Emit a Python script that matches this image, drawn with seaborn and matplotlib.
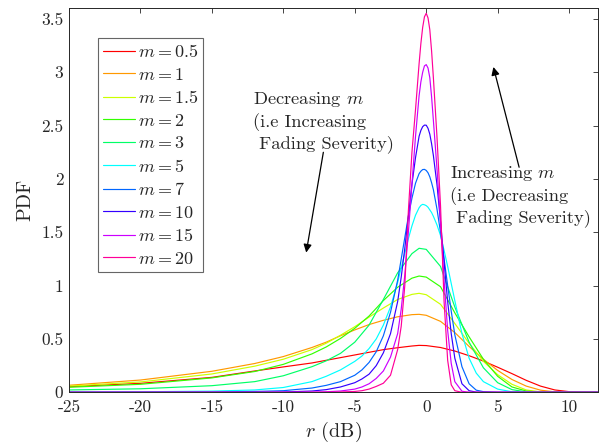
import colorsys
import numpy as np
import pandas as pd
import matplotlib
matplotlib.use("Agg")
import matplotlib.pyplot as plt
import seaborn as sns

# ---------------- data ----------------
m_values = ["0.5", "1", "1.5", "2", "3", "5", "7", "10", "15", "20"]

x_wide = [-25, -20, -15, -12, -10, -8, -7, -6, -5, -4, -3, -2, -1, -0.5, 0,
          1, 2, 3, 4, 5, 6, 7, 8, 9, 10, 11, 12]
pdf_m0p5 = [0.053, 0.084, 0.14, 0.20, 0.238, 0.275, 0.30, 0.325, 0.35, 0.375, 0.40,
            0.418, 0.434, 0.44, 0.438, 0.42, 0.387, 0.343, 0.293, 0.235, 0.175,
            0.112, 0.058, 0.022, 0.006, 0.001, 0.0]
pdf_m1 = [0.066, 0.115, 0.197, 0.27, 0.335, 0.42, 0.47, 0.53, 0.585, 0.635, 0.675,
          0.708, 0.728, 0.731, 0.722, 0.665, 0.56, 0.43, 0.31, 0.205, 0.12,
          0.058, 0.02, 0.004, 0.0, 0.0, 0.0]
pdf_m1p5 = [0.058, 0.097, 0.172, 0.245, 0.31, 0.40, 0.46, 0.535, 0.615, 0.705, 0.79,
            0.87, 0.918, 0.928, 0.915, 0.825, 0.645, 0.46, 0.29, 0.165, 0.075,
            0.022, 0.004, 0.0, 0.0, 0.0, 0.0]
pdf_m2 = [0.047, 0.075, 0.135, 0.195, 0.262, 0.36, 0.425, 0.505, 0.60, 0.715, 0.86,
          0.985, 1.07, 1.09, 1.08, 0.99, 0.745, 0.52, 0.31, 0.15, 0.05,
          0.012, 0.001, 0.0, 0.0, 0.0, 0.0]
pdf_m3 = [0.022, 0.033, 0.062, 0.10, 0.155, 0.24, 0.295, 0.365, 0.47, 0.63, 0.87,
          1.12, 1.30, 1.35, 1.34, 1.18, 0.80, 0.47, 0.23, 0.09, 0.025,
          0.004, 0.0, 0.0, 0.0, 0.0, 0.0]

x_narrow = [-25, -20, -15, -12, -10, -8, -7, -6, -5, -4.5, -4, -3.5, -3, -2.5, -2,
            -1.75, -1.5, -1.25, -1, -0.75, -0.5, -0.375, -0.25, -0.125, 0,
            0.125, 0.25, 0.375, 0.5, 0.75, 1,
            1.25, 1.5, 1.75, 2, 2.5, 3, 3.5, 4, 5, 6, 8, 12]
pdf_m5 = [0.003, 0.005, 0.011, 0.022, 0.045, 0.10, 0.15, 0.21, 0.29, 0.34, 0.41,
          0.50, 0.63, 0.80, 1.03, 1.17, 1.30, 1.44, 1.56, 1.66, 1.73, 1.752, 1.762,
          1.758, 1.75, 1.735, 1.71, 1.685, 1.65, 1.57, 1.47, 1.33, 1.18, 1.02, 0.86,
          0.55, 0.32, 0.18, 0.10, 0.03, 0.005, 0.0, 0.0]
pdf_m7 = [0.0, 0.001, 0.003, 0.008, 0.015, 0.04, 0.065, 0.10, 0.16, 0.21, 0.28,
          0.38, 0.53, 0.75, 1.05, 1.25, 1.45, 1.65, 1.82, 1.96, 2.05, 2.073, 2.088,
          2.09, 2.08, 2.058, 2.02, 1.965, 1.90, 1.72, 1.50, 1.25, 1.00, 0.76, 0.54,
          0.24, 0.08, 0.02, 0.006, 0.001, 0.0, 0.0, 0.0]
pdf_m10 = [0.0, 0.0, 0.0, 0.0, 0.003, 0.012, 0.025, 0.05, 0.09, 0.125, 0.17,
           0.25, 0.37, 0.55, 0.85, 1.08, 1.35, 1.65, 1.95, 2.20, 2.40, 2.455, 2.49,
           2.505, 2.504, 2.475, 2.42, 2.33, 2.22, 1.95, 1.60, 1.22, 0.85, 0.55, 0.32,
           0.08, 0.015, 0.002, 0.0, 0.0, 0.0, 0.0, 0.0]
pdf_m15 = [0.0, 0.0, 0.0, 0.0, 0.0, 0.002, 0.005, 0.012, 0.03, 0.05, 0.08,
           0.13, 0.20, 0.33, 0.55, 0.78, 1.10, 1.50, 1.95, 2.40, 2.78, 2.91, 3.00,
           3.06, 3.072, 3.04, 2.95, 2.77, 2.55, 2.10, 1.60, 1.05, 0.58, 0.27, 0.10,
           0.01, 0.0, 0.0, 0.0, 0.0, 0.0, 0.0, 0.0]
pdf_m20 = [0.0, 0.0, 0.0, 0.0, 0.0, 0.0, 0.001, 0.003, 0.008, 0.015, 0.03,
           0.055, 0.085, 0.16, 0.40, 0.62, 1.00, 1.70, 2.25, 2.65, 3.08, 3.27, 3.42,
           3.52, 3.553, 3.51, 3.40, 3.20, 2.95, 2.40, 1.75, 0.85, 0.30, 0.07, 0.015,
           0.0, 0.0, 0.0, 0.0, 0.0, 0.0, 0.0, 0.0]

series = [pdf_m0p5, pdf_m1, pdf_m1p5, pdf_m2, pdf_m3,
          pdf_m5, pdf_m7, pdf_m10, pdf_m15, pdf_m20]
grids = [x_wide] * 5 + [x_narrow] * 5

x_ticks = [-25, -20, -15, -10, -5, 0, 5, 10]
x_ticklabels = ["-25", "-20", "-15", "-10", "-5", "0", "5", "10"]
y_ticks = [0, 0.5, 1, 1.5, 2, 2.5, 3, 3.5]
y_ticklabels = ["0", "0.5", "1", "1.5", "2", "2.5", "3", "3.5"]

# ---------------- build table ----------------
frames = []
for mv, xs, ys in zip(m_values, grids, series):
    frames.append(pd.DataFrame({"r": xs, "pdf": ys, "m": f"$m = {mv}$"}))
df = pd.concat(frames, ignore_index=True)

labels = [f"$m = {mv}$" for mv in m_values]
colors = [colorsys.hsv_to_rgb(i / 10.0, 1.0, 1.0) for i in range(10)]
palette = dict(zip(labels, colors))

# ---------------- style ----------------
sns.set_theme(style="white")
plt.rcParams["font.family"] = ["cmr10", "DejaVu Serif"]
plt.rcParams["mathtext.fontset"] = "cm"
plt.rcParams["axes.unicode_minus"] = False

fig = plt.figure(figsize=(6.0, 4.45), dpi=100)
ax = fig.add_axes([69 / 600, 1 - 392.3 / 445, 528.7 / 600, 384 / 445])

sns.lineplot(data=df, x="r", y="pdf", hue="m", hue_order=labels, palette=palette,
             estimator=None, sort=False, linewidth=0.85, ax=ax, legend=False)

ax.set_xlim(-25, 12)
ax.set_ylim(0, 3.6)
ax.set_xticks(x_ticks)
ax.set_xticklabels(x_ticklabels)
ax.set_yticks(y_ticks)
ax.set_yticklabels(y_ticklabels)
ax.tick_params(direction="in", top=True, right=True, length=3.6, width=0.6,
               labelsize=12.5, colors="#262626")
ax.tick_params(axis="x", pad=5.5)
ax.tick_params(axis="y", pad=4.0)
for sp in ax.spines.values():
    sp.set_color("#262626")
    sp.set_linewidth(0.7)

ax.set_xlabel("$r$ (dB)", fontsize=14.5, labelpad=3)
ax.set_ylabel("PDF", fontsize=14.5, labelpad=5)

handles = [plt.Line2D([], [], color=palette[l], lw=0.85) for l in labels]
leg = ax.legend(handles, labels, loc="upper left", bbox_to_anchor=(0.054, 0.923),
                borderaxespad=0, fontsize=13, handlelength=1.77, handletextpad=0.15,
                labelspacing=0.36, borderpad=0.3, frameon=True, fancybox=False)
leg.get_frame().set_edgecolor("#404040")
leg.get_frame().set_linewidth(0.8)

ax.annotate("", xy=(-8.4, 1.31), xytext=(-7.2, 2.25),
            arrowprops=dict(arrowstyle="-|>", color="black", lw=0.9,
                            mutation_scale=12, shrinkA=0, shrinkB=0))
ax.text(-12.1, 2.83, "Decreasing $m$\n(i.e Increasing\n Fading Severity)",
        fontsize=13.3, va="top", ha="left", linespacing=1.3)

ax.annotate("", xy=(4.7, 3.05), xytext=(6.5, 2.11),
            arrowprops=dict(arrowstyle="-|>", color="black", lw=0.9,
                            mutation_scale=12, shrinkA=0, shrinkB=0))
ax.text(1.67, 2.14, "Increasing $m$\n(i.e Decreasing\n Fading Severity)",
        fontsize=13.3, va="top", ha="left", linespacing=1.3)

fig.savefig("out.png", dpi=100)
